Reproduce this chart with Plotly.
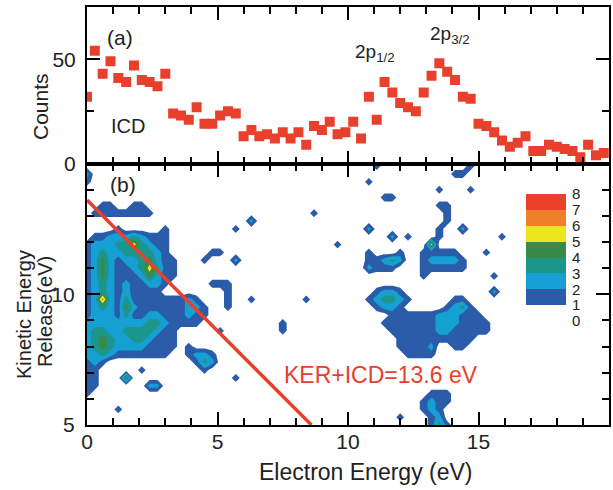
import plotly.graph_objects as go

# ---------------- data ----------------
# (a) electron-energy histogram: bin centres (eV) and counts
energy_bins = [round(i * 0.3, 1) for i in range(67)]
counts = [32, 54, 43, 49, 41, 39, 47, 40, 39, 37, 43, 24, 23, 21, 27, 19, 19, 23, 25, 24,
          13, 16, 13, 14, 12, 15, 12, 15, 9, 18, 16, 20, 14, 15, 20, 12, 32, 21, 39, 34,
          29, 27, 25, 34, 42, 48, 44, 40, 32, 31, 19, 18, 15, 11, 8, 10, 13, 6, 6, 9,
          8, 7, 6, 3, 9, 4, 5]

# (b) coincidence map: KER bins (eV) and counts per cell, as runs
# row index -> list of (first energy-bin index, digits of counts)
ker_bins = [round(5.0 + 0.3 * j, 1) for j in range(34)]
map_runs = {
    33: [(37, "1"), (49, "1")],
    32: [(0, "2"), (47, "11")],
    31: [(0, "1"), (36, "1")],
    30: [(45, "1"), (49, "1")],
    29: [(38, "11")],
    28: [(2, "11"), (6, "11"), (45, "11")],
    27: [(1, "11111111"), (29, "1"), (46, "1")],
    26: [(21, "2"), (46, "1")],
    25: [(4, "1"), (10, "1"), (19, "1"), (36, "2"), (45, "1"), (48, "2")],
    24: [(1, "1122232111"), (39, "201"), (45, "1"), (53, "1")],
    23: [(0, "12223353211"), (32, "1"), (44, "5")],
    22: [(0, "12322333321"), (16, "11"), (36, "1"), (40, "1"), (43, "11111"), (51, "1")],
    21: [(0, "124212234211"), (15, "1"), (19, "2"), (36, "11232"), (43, "122221")],
    20: [(0, "124211235311"), (36, "2111"), (43, "111111")],
    19: [(0, "124211124211"), (43, "1"), (52, "1")],
    18: [(0, "12321211221"), (16, "111")],
    17: [(0, "1232121111"), (18, "1"), (37, "1221"), (52, "2")],
    16: [(0, "126213111111121"), (18, "1"), (21, "1"), (28, "1"), (36, "123321"), (47, "11")],
    15: [(0, "1232142111111221"), (18, "1"), (37, "1221"), (46, "1231")],
    14: [(0, "1222131122111211"), (39, "111111222111")],
    13: [(0, "222222223321111"), (25, "1"), (38, "11111112221111")],
    12: [(0, "233223333211"), (17, "1"), (25, "1"), (39, "1111112211111")],
    11: [(0, "234322332111"), (40, "1111111111")],
    10: [(0, "234322221111"), (13, "1"), (40, "111120011")],
    9: [(0, "22321111111"), (13, "1221"), (41, "1111")],
    8: [(0, "121"), (14, "132")],
    7: [(0, "11"), (7, "1"), (15, "1")],
    6: [(0, "11"), (5, "4"), (19, "1")],
    5: [(0, "11"), (8, "22")],
    4: [(0, "1"), (44, "111")],
    3: [(43, "1211")],
    2: [(4, "1"), (43, "121")],
    1: [(40, "1"), (44, "12")],
    0: [(44, "131")],
}
# colour-key levels (0..8) and the band index of each block (0..7)
level_labels = [0, 1, 2, 3, 4, 5, 6, 7, 8]
key_bands = [0, 1, 2, 3, 4, 5, 6, 7]
ker_plus_icd = 13.6  # eV

# ---------------- styling ----------------
FONT = "Liberation Sans, Arial, Helvetica, sans-serif"
RED = "#e8402c"
level_colors = ["#ffffff", "#2b5ca9", "#15a0d3", "#1c968a", "#3a8a47",
                "#ece61d", "#f07f2b", "#e8422c"]

z = [[0] * len(energy_bins) for _ in ker_bins]
for row, runs in map_runs.items():
    for c0, digits in runs:
        for k, ch in enumerate(digits):
            z[row][c0 + k] = int(ch)

n = len(level_colors)
contour_scale = [[i / (n - 1), c] for i, c in enumerate(level_colors)]

line_energy = [0.0, ker_plus_icd - ker_bins[0]]
line_ker = [ker_plus_icd - e for e in line_energy]

fig = go.Figure()

fig.add_trace(go.Contour(
    x=energy_bins, y=ker_bins, z=z, xaxis="x", yaxis="y",
    autocontour=False,
    contours=dict(start=0.5, end=6.5, size=1, coloring="fill", showlines=False),
    line=dict(width=0, smoothing=0),
    colorscale=contour_scale, showscale=False, hoverinfo="skip",
))

fig.add_trace(go.Scatter(
    x=line_energy, y=line_ker, mode="lines", xaxis="x", yaxis="y",
    line=dict(color=RED, width=3.5), showlegend=False, hoverinfo="skip",
))

fig.add_trace(go.Scatter(
    x=energy_bins, y=counts, mode="markers", xaxis="x2", yaxis="y2",
    marker=dict(symbol="square", size=10, color=RED, line=dict(width=0)),
    showlegend=False, hoverinfo="skip",
))

# colour key drawn as a one-column heatmap on its own small axes
fig.add_trace(go.Heatmap(
    x=[0], y=[b + 0.5 for b in key_bands], z=[[b] for b in key_bands],
    xaxis="x3", yaxis="y3", zmin=0, zmax=n - 1, colorscale=contour_scale,
    showscale=False, hoverinfo="skip", xgap=0, ygap=0,
))


def px(X):
    return (X - 87) / 522


def py(Y):
    return (425 - Y) / 418


split = py(163.5)
axis_common = dict(showline=True, linewidth=2, linecolor="black", mirror="ticks",
                   ticks="inside", tickwidth=2, tickcolor="black", ticklen=13,
                   showgrid=False, zeroline=False,
                   tickfont=dict(size=21, color="#222"))
minor = dict(ticks="inside", ticklen=7, tickwidth=2, tickcolor="black", showgrid=False)

fig.update_layout(
    width=613, height=490,
    margin=dict(l=87, r=4, t=7, b=65, autoexpand=False),
    paper_bgcolor="white", plot_bgcolor="white",
    font=dict(family=FONT, color="#222"),
    xaxis=dict(domain=[0, 1], range=[0, 20], anchor="y",
               tickmode="array", tickvals=[0, 5, 10, 15],
               minor=dict(dtick=1, **minor), ticklabelstandoff=-3, **axis_common),
    yaxis=dict(domain=[0, split], range=[5, 15], anchor="x",
               tickmode="array", tickvals=[5, 10],
               minor=dict(dtick=1, **minor), ticklabelstandoff=6, **axis_common),
    xaxis2=dict(domain=[0, 1], range=[0, 20], anchor="y2", showticklabels=False,
                tickmode="linear", tick0=0, dtick=5,
                minor=dict(dtick=1, **minor), **axis_common),
    yaxis2=dict(domain=[split, 1], range=[0, 75], anchor="x2",
                tickmode="linear", tick0=0, dtick=50,
                minor=dict(dtick=25, **minor), ticklabelstandoff=5, **axis_common),
    xaxis3=dict(domain=[px(526), px(566)], range=[-0.5, 0.5], anchor="y3",
                visible=False, fixedrange=True),
    yaxis3=dict(domain=[py(321), py(194)], range=[level_labels[0], level_labels[-1]],
                anchor="x3", side="right", showline=False, showgrid=False,
                zeroline=False, ticks="", tickmode="array", tickvals=level_labels,
                ticklabelstandoff=5, tickfont=dict(size=15, color="#222"),
                fixedrange=True),
)


def note(text, X, Y, size, color="#222", angle=0, xanchor="center"):
    fig.add_annotation(text=text, x=px(X), y=py(Y), xref="paper", yref="paper",
                       showarrow=False, textangle=angle, xanchor=xanchor, yanchor="middle",
                       font=dict(size=size, color=color, family=FONT))


note("(a)", 120, 37, 21)
note("ICD", 128, 126, 20)
note("2p<sub>1/2</sub>", 353, 53, 19, xanchor="left")
note("2p<sub>3/2</sub>", 428, 35, 19, xanchor="left")
note("(b)", 123, 184, 21)
note("KER+ICD=13.6 eV", 381, 375, 23, color=RED)
note("Counts", 40, 107, 21, angle=-90)
note("Kinetic Energy", 24, 315, 20, angle=-90)
note("Release(eV)", 45, 312, 20, angle=-90)
note("Electron Energy (eV)", 365, 472, 23)

fig.write_html(
    "out.html",
    config={"displayModeBar": False},
    post_script="document.body.style.margin='0';document.documentElement.style.overflow='hidden';",
)
